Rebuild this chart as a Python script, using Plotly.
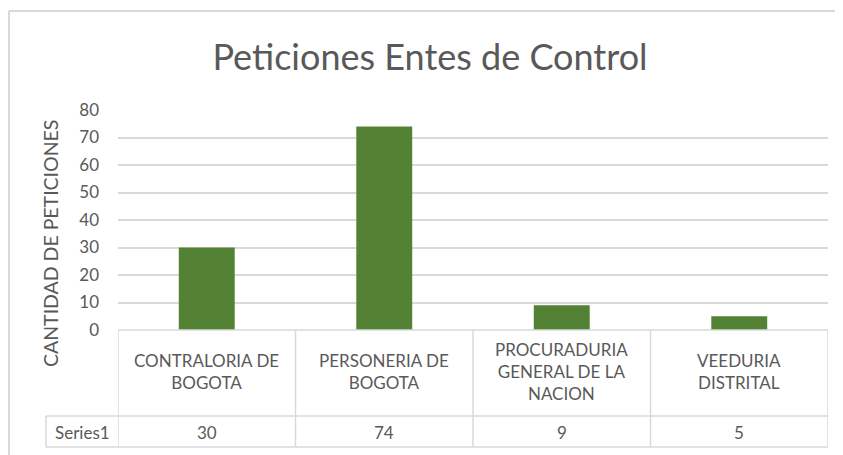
import plotly.graph_objects as go

categories = ["CONTRALORIA DE<br>BOGOTA", "PERSONERIA DE<br>BOGOTA",
              "PROCURADURIA<br>GENERAL DE LA<br>NACION", "VEEDURIA<br>DISTRITAL"]
values = [30, 74, 9, 5]
series_name = "Series1"
y_ticks = [0, 10, 20, 30, 40, 50, 60, 70, 80]

FONT = "Lato"
TEXT = "#595959"
LINE = "#d9d9d9"
GREEN = "#548235"

# the page body has an 8px margin, so the figure is shifted; work in page pixels
OFF = 8
W, H = 843 - OFF, 455 - OFF
L, R, T, B = 118 - OFF, 843 - 828, 110 - OFF, 455 - 330
pw, ph = W - L - R, H - T - B


def px_x(p):
    return (p - OFF - L) / pw


def px_y(p):
    return (H + OFF - B - p) / ph


xs = list(range(len(values)))

fig = go.Figure()
fig.add_trace(go.Bar(x=xs, y=values, marker=dict(color=GREEN, line=dict(width=0)),
                     width=0.315, name=series_name, hoverinfo="y"))

shapes = []
# table rows
for yp in [330, 416, 447]:
    x0 = px_x(46) if yp != 330 else 0
    shapes.append(dict(type="line", xref="paper", yref="paper", x0=x0, x1=1,
                       y0=px_y(yp), y1=px_y(yp), line=dict(color=LINE, width=1.5)))
# table columns
for i in range(len(values) + 1):
    shapes.append(dict(type="line", xref="x", yref="paper", x0=i - 0.5, x1=i - 0.5,
                       y0=px_y(330), y1=px_y(447), line=dict(color=LINE, width=1.5)))
shapes.append(dict(type="line", xref="paper", yref="paper", x0=px_x(46), x1=px_x(46),
                   y0=px_y(416), y1=px_y(447), line=dict(color=LINE, width=1.5)))
# outer chart frame
shapes.append(dict(type="line", xref="paper", yref="paper", x0=px_x(9), x1=px_x(9),
                   y0=px_y(11), y1=px_y(455), line=dict(color=LINE, width=2)))
shapes.append(dict(type="line", xref="paper", yref="paper", x0=px_x(9), x1=px_x(843),
                   y0=px_y(11), y1=px_y(11), line=dict(color=LINE, width=2)))

cell_font = dict(family=FONT, size=17, color=TEXT)
annotations = []
for i, (c, v) in enumerate(zip(categories, values)):
    annotations.append(dict(x=i, y=px_y(371), xref="x", yref="paper", text=c,
                            xanchor="center", yanchor="middle",
                            showarrow=False, font=cell_font))
    annotations.append(dict(x=i, y=px_y(432), xref="x", yref="paper", text=str(v),
                            xanchor="center", yanchor="middle",
                            showarrow=False, font=cell_font))
annotations.append(dict(x=px_x(82), y=px_y(432), xref="paper", yref="paper", text=series_name,
                        xanchor="center", yanchor="middle",
                        showarrow=False, font=cell_font))
annotations.append(dict(x=px_x(50), y=px_y(244), xref="paper", yref="paper",
                        text="CANTIDAD DE PETICIONES", textangle=-90, showarrow=False,
                        xanchor="center", yanchor="middle",
                        font=dict(family=FONT, size=19.5, color=TEXT)))

fig.update_layout(
    width=W, height=H,
    margin=dict(l=L, r=R, t=T, b=B),
    paper_bgcolor="white", plot_bgcolor="white",
    title=dict(text="Peticiones Entes de Control", x=(430 - OFF) / W, xanchor="center",
               y=1 - (57 - OFF) / H, yanchor="middle",
               font=dict(family=FONT, size=36, color=TEXT)),
    xaxis=dict(range=[-0.5, 3.5], showticklabels=False, showgrid=False,
               zeroline=False, showline=False, fixedrange=True),
    yaxis=dict(range=[0, 80], tickvals=y_ticks, showgrid=True, gridcolor=LINE,
               gridwidth=1.5, zeroline=False, showline=False, ticks="",
               tickfont=dict(family=FONT, size=17, color=TEXT), ticklabelstandoff=18),
    shapes=shapes, annotations=annotations, showlegend=False,
)

fig.write_html("out.html")
